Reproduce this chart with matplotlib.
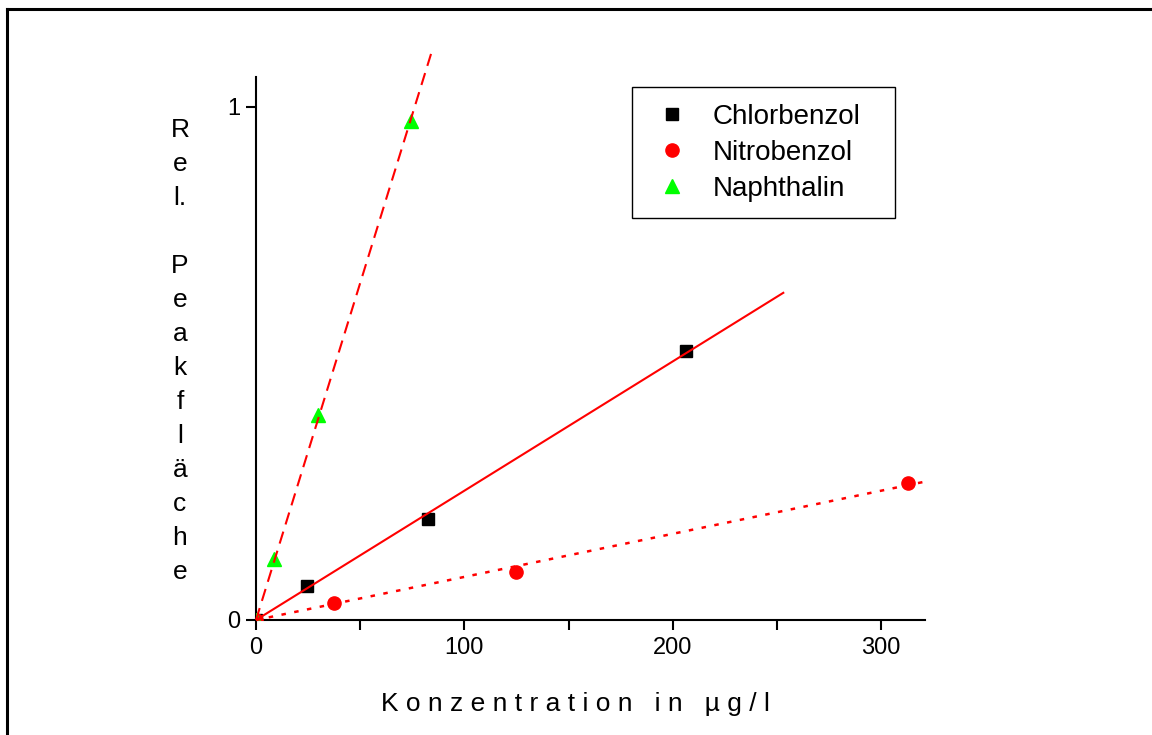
import matplotlib
matplotlib.use("Agg")
import matplotlib.pyplot as plt
from matplotlib.lines import Line2D
import numpy as np

# measured points (concentration in ug/l, relative peak area)
chlor_x = [0, 24.5, 82.6, 206.4]
chlor_y = [0, 0.066, 0.197, 0.524]
nitro_x = [0, 37.4, 124.8, 313.0]
nitro_y = [0, 0.033, 0.094, 0.267]
naph_x = [0, 8.6, 29.8, 74.4]
naph_y = [0, 0.119, 0.400, 0.973]

# x range covered by each calibration line
chlor_fit_x = [0, 253]
nitro_fit_x = [0, 321]
naph_fit_x = [0, 84]

x_major = [0, 100, 200, 300]
x_minor = [50, 150, 250]
y_major = [0, 1]

W, H = 1152, 735
plt.rcParams['font.family'] = ['Liberation Sans', 'DejaVu Sans']


def origin_slope(x, y):
    x = np.asarray(x, float)
    y = np.asarray(y, float)
    return (x * y).sum() / (x * x).sum()


def main():
    fig = plt.figure(figsize=(W / 100, H / 100), dpi=100)
    ax = fig.add_axes([256 / W, 1 - 620 / H, 669 / W, 543 / H])

    ax.plot(chlor_x, chlor_y, 's', color='black', ms=9, ls='none', zorder=3, label='Chlorbenzol')
    ax.plot(nitro_x, nitro_y, 'o', color='#ff0000', ms=9.5, ls='none', zorder=3, label='Nitrobenzol')
    ax.plot(naph_x, naph_y, '^', color='#00ff00', ms=10, ls='none', zorder=3, label='Naphthalin')

    red = '#ff0000'
    fx = np.array(chlor_fit_x, float)
    ax.plot(fx, origin_slope(chlor_x, chlor_y) * fx, '-', color=red, lw=1.5, zorder=4)
    fx = np.array(nitro_fit_x, float)
    ax.plot(fx, origin_slope(nitro_x, nitro_y) * fx, color=red, lw=1.8, zorder=4,
            dashes=(1.8, 3.4), clip_on=False)
    fx = np.array(naph_fit_x, float)
    ax.plot(fx, origin_slope(naph_x, naph_y) * fx, color=red, lw=1.5, zorder=4,
            dashes=(6.0, 3.6), clip_on=False)

    ax.set_xlim(0, 321)
    ax.set_ylim(0, 1.058)
    for s in ['top', 'right']:
        ax.spines[s].set_visible(False)
    for s in ['left', 'bottom']:
        ax.spines[s].set_linewidth(1.5)

    ax.set_xticks(x_major)
    ax.set_xticks(x_minor, minor=True)
    ax.set_yticks(y_major)
    ax.tick_params(axis='both', which='both', direction='out', length=7.5, width=1.5,
                   labelsize=17)
    ax.tick_params(axis='x', pad=5)
    ax.tick_params(axis='y', pad=4)

    leg = ax.legend(loc='upper left', mode='expand',
                    bbox_to_anchor=(632 / W, 1 - 217 / H, 263 / W, 130 / H),
                    bbox_transform=fig.transFigure, borderaxespad=0,
                    prop={'size': 20}, frameon=True,
                    fancybox=False, edgecolor='black', framealpha=1,
                    handlelength=1.7, handletextpad=0.6, labelspacing=0.36,
                    borderpad=0.6)
    leg.get_frame().set_linewidth(1.0)

    # x label, letter spaced
    fig.text(575 / W, 1 - 704 / H, ' '.join('Konzentration in µg/l'),
             ha='center', va='center', fontsize=19)

    # y label, one character per line
    ylab = ['R', 'e', 'l.', '', 'P', 'e', 'a', 'k', 'f', 'l', 'ä', 'c', 'h', 'e']
    for i, ch in enumerate(ylab):
        fig.text(180 / W, 1 - (130 + 34 * i) / H, ch, ha='center', va='center', fontsize=19)

    # outer frame (left and top edges visible)
    fig.add_artist(Line2D([7 / W, 7 / W], [0, 1 - 9 / H], transform=fig.transFigure,
                          color='black', lw=2.2))
    fig.add_artist(Line2D([7 / W, 1], [1 - 9 / H, 1 - 9 / H], transform=fig.transFigure,
                          color='black', lw=2.2))

    fig.savefig('out.png', dpi=100)


if __name__ == '__main__':
    main()
